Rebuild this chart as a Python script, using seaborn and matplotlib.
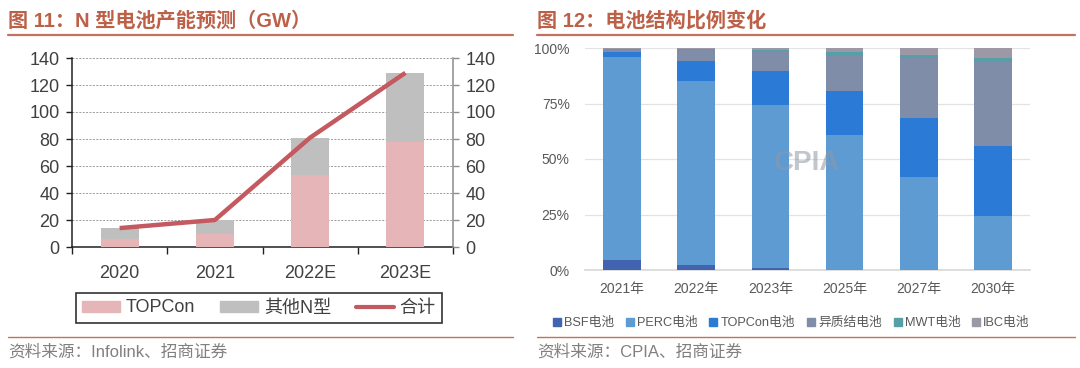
import numpy as np
import pandas as pd
import matplotlib
matplotlib.use("Agg")
import matplotlib.pyplot as plt
import seaborn as sns
from matplotlib.patches import Patch
from matplotlib.lines import Line2D
from matplotlib.ticker import PercentFormatter

# left chart: N-type cell capacity (GW)
years_n = ["2020", "2021", "2022E", "2023E"]
topcon_gw = [6, 10, 53, 78]
other_n_gw = [8, 10, 28, 51]
total_gw = [14, 20, 81, 129]

# right chart: cell technology share (%)
years_share = ["2021年", "2022年", "2023年", "2025年", "2027年", "2030年"]
share_names = ["BSF电池", "PERC电池", "TOPCon电池", "异质结电池", "MWT电池", "IBC电池"]
bsf = [4.5, 2.3, 1.1, 0.0, 0.0, 0.0]
perc = [91.6, 83.0, 73.3, 60.6, 42.1, 24.1]
topcon = [2.2, 9.0, 15.1, 20.2, 26.3, 31.8]
hjt = [0.8, 4.6, 9.0, 15.7, 27.1, 37.6]
mwt = [0.5, 0.5, 0.7, 1.7, 1.5, 2.0]
ibc = [0.4, 0.6, 0.8, 1.8, 3.0, 4.5]

share_colors = ["#4263B0", "#5E9BD2", "#2B7BD6", "#7F8DA8", "#55A0A6", "#9C98A6"]

sns.set_theme(style="white")
plt.rcParams["font.family"] = ["Liberation Sans", "Noto Sans CJK SC", "DejaVu Sans"]

W, H = 1080, 368
fig = plt.figure(figsize=(W / 100, H / 100), dpi=100)


def box(x0, y0, x1, y1):
    return [x0 / W, 1 - y1 / H, (x1 - x0) / W, (y1 - y0) / H]


title_c = "#BC6148"
rule_c = "#C0735E"
bar_kw = dict(saturation=1, linewidth=0, edgecolor="none")

# ---- left chart
ax1 = fig.add_axes(box(72, 58, 453, 247))
df_n = pd.DataFrame({"year": years_n, "topcon": topcon_gw,
                     "total_bar": np.array(topcon_gw) + np.array(other_n_gw),
                     "total": total_gw})
sns.barplot(data=df_n, x="year", y="total_bar", color="#BFBFBF", width=0.4,
            ax=ax1, zorder=2, **bar_kw)
sns.barplot(data=df_n, x="year", y="topcon", color="#E6B5B7", width=0.4,
            ax=ax1, zorder=3, **bar_kw)
ax1.plot(range(len(years_n)), df_n["total"], color="#C45A5F", lw=3.2,
         solid_capstyle="butt", zorder=4)
ax1.set_ylim(0, 140)
ax1.set_xlim(-0.5, 3.5)
ax1.set_yticks(range(0, 141, 20))
ax1.set_xlabel("")
ax1.set_ylabel("")
ax1.grid(axis="y", ls=(0, (2, 1.5)), color="#9A9A9A", lw=0.7, zorder=0)
for s in ["top", "right"]:
    ax1.spines[s].set_visible(False)
ax1.spines["left"].set_color("#202020")
ax1.spines["bottom"].set_color("#202020")
ax1.spines["left"].set_linewidth(1.1)
ax1.spines["bottom"].set_linewidth(1.1)
ax1.tick_params(axis="y", left=True, length=4, width=1, color="#202020",
                labelsize=13, labelcolor="#404040", pad=5)
ax1.tick_params(axis="x", bottom=False, labelsize=13, labelcolor="#404040", pad=7)
ax1.set_xticks([-0.5, 0.5, 1.5, 2.5, 3.5], minor=True)
ax1.tick_params(axis="x", which="minor", bottom=True, length=5, width=1, color="#202020")

ax1r = ax1.twinx()
ax1r.set_ylim(0, 140)
ax1r.set_yticks(range(0, 141, 20))
for s in ["top", "left", "bottom"]:
    ax1r.spines[s].set_visible(False)
ax1r.spines["right"].set_color("#8C8C8C")
ax1r.spines["right"].set_linewidth(1.1)
ax1r.tick_params(axis="y", right=True, length=4, width=1, color="#8C8C8C",
                 labelsize=13, labelcolor="#404040", pad=5)
ax1r.grid(False)

handles = [Patch(color="#E6B5B7"), Patch(color="#BFBFBF"),
           Line2D([], [], color="#C45A5F", lw=3)]
leg = fig.legend(handles, ["TOPCon", "其他N型", "合计"], ncol=3,
                 loc="center", bbox_to_anchor=(259 / W, 1 - 308 / H),
                 frameon=True, fancybox=False, edgecolor="#000000",
                 fontsize=13, handlelength=2.1, handleheight=0.55,
                 columnspacing=1.4, handletextpad=0.3, borderpad=0.35,
                 borderaxespad=0)
leg.get_frame().set_linewidth(1.2)
for t in leg.get_texts():
    t.set_color("#404040")

# ---- right chart
ax2 = fig.add_axes(box(585, 48, 1030, 270))
series = [bsf, perc, topcon, hjt, mwt, ibc]
cum = np.cumsum(np.array(series), axis=0) / 100.0
for i in range(len(series) - 1, -1, -1):
    d = pd.DataFrame({"year": years_share, "v": cum[i]})
    sns.barplot(data=d, x="year", y="v", color=share_colors[i], width=0.51,
                ax=ax2, zorder=2 + (len(series) - i), **bar_kw)
ax2.set_ylim(0, 1)
ax2.set_xlim(-0.5, 5.5)
ax2.set_yticks([0, 0.25, 0.5, 0.75, 1.0])
ax2.yaxis.set_major_formatter(PercentFormatter(1.0, decimals=0))
ax2.set_xlabel("")
ax2.set_ylabel("")
ax2.grid(axis="y", color="#E3E3E3", lw=0.9, zorder=0)
for s in ["top", "right", "left"]:
    ax2.spines[s].set_visible(False)
ax2.spines["bottom"].set_color("#D9D9D9")
ax2.tick_params(axis="y", length=0, labelsize=10, labelcolor="#595959", pad=11)
ax2.tick_params(axis="x", length=0, labelsize=10, labelcolor="#595959", pad=9)
ax2.text(2.5, 0.48, "CPIA", ha="center", va="center", fontsize=20,
         fontweight="bold", color="#8E98A6", alpha=0.55, zorder=20)

h2 = [Line2D([], [], marker="s", ls="", color=c, markersize=6) for c in share_colors]
leg2 = fig.legend(h2, share_names, ncol=6, loc="center",
                  bbox_to_anchor=(791 / W, 1 - 323 / H), frameon=False,
                  fontsize=9.2, handlelength=0.7, handletextpad=0.2,
                  columnspacing=0.9)
for t in leg2.get_texts():
    t.set_color("#595959")

# ---- titles, rules and sources
fig.text(8 / W, 1 - 21 / H, "图 11：N 型电池产能预测（GW）", fontsize=14.5,
         fontweight="bold", color=title_c, va="center", ha="left")
fig.text(537 / W, 1 - 21 / H, "图 12：电池结构比例变化", fontsize=14.5,
         fontweight="bold", color=title_c, va="center", ha="left")
for x0, x1 in [(8, 513), (537, 1075)]:
    fig.add_artist(Line2D([x0 / W, x1 / W], [1 - 35 / H, 1 - 35 / H],
                          color=rule_c, lw=1.6))
    fig.add_artist(Line2D([x0 / W, x1 / W], [1 - 337 / H, 1 - 337 / H],
                          color=rule_c, lw=1.0))
fig.text(8 / W, 1 - 352 / H, "资料来源：Infolink、招商证券", fontsize=12,
         color="#808080", va="center", ha="left")
fig.text(537 / W, 1 - 352 / H, "资料来源：CPIA、招商证券", fontsize=12,
         color="#808080", va="center", ha="left")

fig.savefig("out.png", dpi=100)
